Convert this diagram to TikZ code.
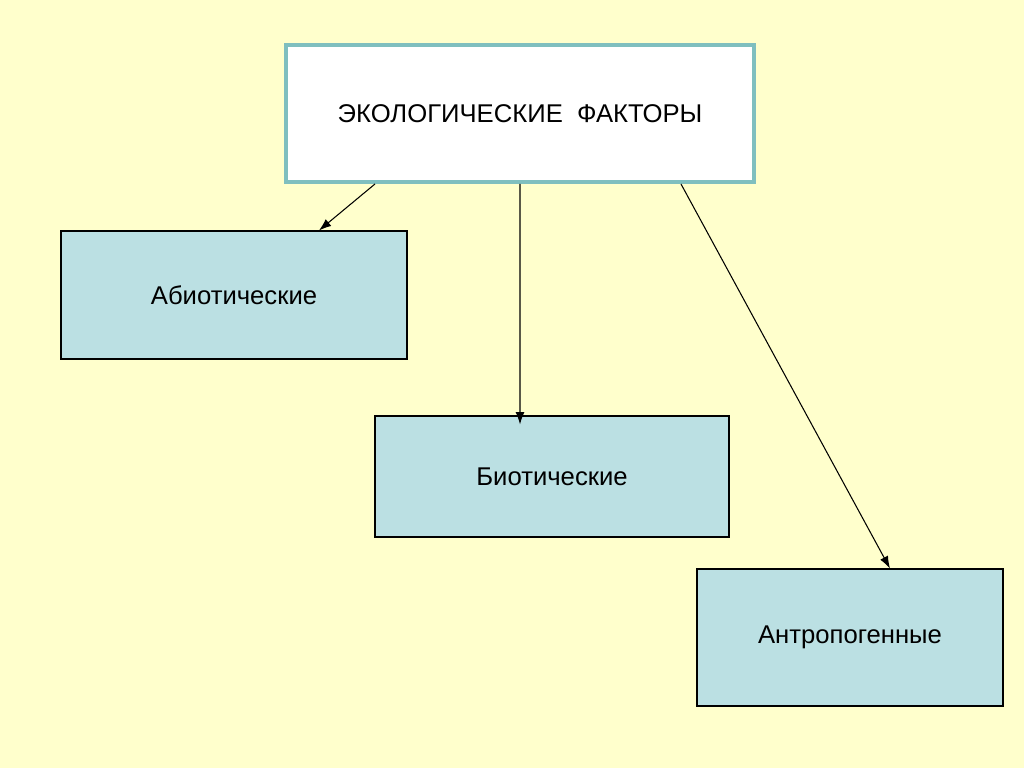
\documentclass[tikz,border=0pt]{standalone}
\usepackage{fontspec}
\setmainfont{Liberation Sans}
\usetikzlibrary{arrows.meta}
\definecolor{pagebg}{HTML}{FFFFCC}
\definecolor{boxfill}{HTML}{BBE0E3}
\definecolor{topframe}{HTML}{7FBFBF}
\begin{document}
\begin{tikzpicture}[x=0.02cm,y=-0.02cm,
  every node/.style={font=\fontsize{14.6}{17}\selectfont},
  factor/.style={draw=black,fill=boxfill,line width=0.6pt,inner sep=0pt},
  link/.style={-{Latex[length=7pt,width=5pt]},line width=0.6pt}]
\fill[pagebg] (0,0) rectangle (1024,768);
\useasboundingbox (0,0) rectangle (1024,768);
\node[draw=topframe,fill=white,line width=2.2pt,minimum width=468*0.02cm,minimum height=137*0.02cm] (top) at (520,113.5) {ЭКОЛОГИЧЕСКИЕ\ \ ФАКТОРЫ};
\node[factor,minimum width=346*0.02cm,minimum height=128*0.02cm] (abio) at (234,295) {Абиотические};
\node[factor,minimum width=354*0.02cm,minimum height=121*0.02cm] (bio) at (552,476.5) {Биотические};
\node[factor,minimum width=306*0.02cm,minimum height=137*0.02cm] (anthro) at (850,637.5) {Антропогенные};
\draw[link] ([xshift=-2.9cm]top.south) -- ([xshift=1.7cm]abio.north);
\draw[link] (top.south) -- ([xshift=-0.64cm,yshift=-0.18cm]bio.north);
\draw[link] ([xshift=3.22cm]top.south) -- ([xshift=0.8cm]anthro.north);
\end{tikzpicture}
\end{document}
